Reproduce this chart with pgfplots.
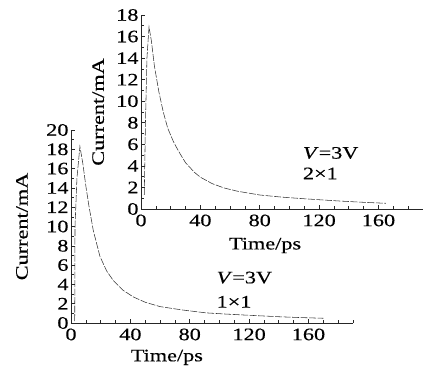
\documentclass[border=0pt]{standalone}
\usepackage{fontspec}
\setmainfont{Liberation Serif}[FakeStretch=1.27, FakeBold=0.35]
\usepackage{pgfplots}
\pgfplotsset{compat=1.18}
\newcommand{\fs}{\fontsize{17.5bp}{20bp}\selectfont}
\pgfplotsset{
  myax/.style={
    scale only axis, width=282bp,
    axis lines=left, axis line style={-, line width=0.7pt, black!85},
    tick align=inside, tick style={black!85, line width=0.6pt},
    major tick length=4bp, minor tick length=3bp,
    xmin=0, xmax=190, ymin=0,
    xtick={0,40,80,120,160}, minor xtick={10,20,...,190},
    ytick distance=2,
    /pgf/number format/assume math mode=true,
    tick label style={font=\fs},
    label style={font=\fs},
    xticklabel style={yshift=-2bp},
    yticklabel style={xshift=1bp},
    clip=false,
  },
  myline/.style={black!80, no markers, line width=0.55pt, dash pattern=on 7bp off 1.5bp}
}
\begin{document}
\begin{tikzpicture}
% bottom (1x1)
\begin{axis}[myax, height=193bp, ymax=20, at={(0,0)}, anchor=south west,
  minor ytick={1,3,...,19},
  xlabel={Time/ps}, ylabel={Current/mA},
  xlabel style={at={(axis description cs:0.34,-0.178)}, anchor=center},
  ylabel style={at={(axis description cs:-0.174,0.5)}, anchor=center, rotate=0}]
\addplot[myline] coordinates {(2.5,0.2) (2.7,10) (4,15) (6,18.3) (8,16.5) (10,14.2) (12,12.2) (15,9.6) (19.5,6.9) (24,5.4) (28.5,4.4) (35,3.4) (42,2.7) (50,2.15) (60,1.7) (75,1.35) (91,1.05) (105,0.92) (120,0.8) (140,0.65) (155,0.56) (170,0.49)};
\node[anchor=west, font=\fs, inner sep=0pt] at (axis cs:98,4.7) {\textit{V}=3V};
\node[anchor=west, font=\fs, inner sep=0pt] at (axis cs:98,2.2) {1×1};
\end{axis}
% top (2x1)
\begin{axis}[myax, height=194bp, ymax=18, at={(70bp,114bp)}, anchor=south west,
  minor ytick={1,3,...,17},
  xlabel={Time/ps}, ylabel={Current/mA},
  xlabel style={at={(axis description cs:0.44,-0.188)}, anchor=center},
  ylabel style={at={(axis description cs:-0.152,0.5)}, anchor=center, rotate=0}]
\addplot[myline] coordinates {(2.2,1.3) (3,8) (4,14) (5.4,16.9) (7,15.6) (9,13.3) (12,10.9) (15,9.0) (18,7.5) (22,6.2) (26,5.2) (30,4.3) (36,3.4) (40,2.95) (48,2.35) (56,1.95) (65,1.65) (80,1.3) (95,1.1) (110,0.95) (120,0.86) (135,0.73) (150,0.62) (165,0.53)};
\node[anchor=west, font=\fs, inner sep=0pt] at (axis cs:109,5.2) {\textit{V}=3V};
\node[anchor=west, font=\fs, inner sep=0pt] at (axis cs:109,3.3) {2×1};
\end{axis}
\pgfresetboundingbox
\path (-71bp,-53bp) rectangle (352bp,323bp);
\end{tikzpicture}
\end{document}
